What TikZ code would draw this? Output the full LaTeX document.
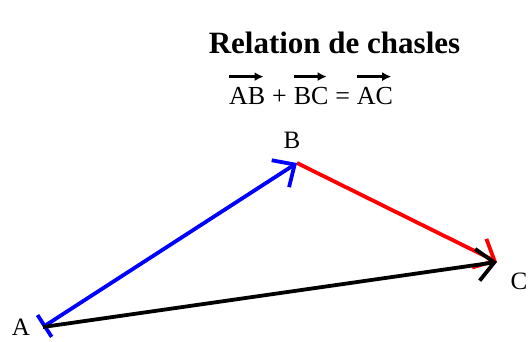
\documentclass[tikz,border=0pt]{standalone}
\usepackage{fontspec}
\setmainfont{Liberation Serif}
\usetikzlibrary{arrows.meta}
\begin{document}
\begin{tikzpicture}[x=1pt,y=-1pt,
  vec/.style={line width=3.8pt,-{Straight Barb[length=17pt,width=32pt]}},
  barvec/.style={line width=3.8pt,{Bar[width=26pt]}-{Straight Barb[length=17pt,width=32pt]}},
  lbl/.style={font=\fontsize{25}{28}\selectfont,inner sep=0pt},
  eq/.style={font=\fontsize{26}{28}\selectfont,inner sep=0pt,anchor=base west},
  overarrow/.style={line width=2.4pt,-{Latex[length=9pt,width=9pt]}}]
\useasboundingbox (0,0) rectangle (528,342);
% title
\node[font=\fontsize{31}{34}\selectfont\bfseries,inner sep=0pt,anchor=base] (title) at (334.5,54) {Relation de chasles};
% equation
\node[eq] (ab) at (229,105) {AB};
\node[eq] (plus) at (ab.base east) {\kern0.25em+\kern0.25em};
\node[eq] (bc) at (plus.base east) {BC};
\node[eq] (equal) at (bc.base east) {\kern0.25em=\kern0.25em};
\node[eq] (ac) at (equal.base east) {AC};
\foreach \n in {ab,bc,ac}
  \draw[overarrow] ([yshift=11pt]\n.north west) -- ([yshift=11pt,xshift=-2pt]\n.north east);
% points
\coordinate (A) at (43,327);
\coordinate (B) at (297,163);
\coordinate (C) at (497,262);
\draw[red,vec] (B) -- (C);
\draw[blue,barvec] (A) -- (B);
\draw[black,vec] (A) -- (C);
% labels
\node[lbl] (la) at (21,327) {A};
\node[lbl] (lb) at (292,140) {B};
\node[lbl] (lc) at (519,281) {C};
\end{tikzpicture}
\end{document}
